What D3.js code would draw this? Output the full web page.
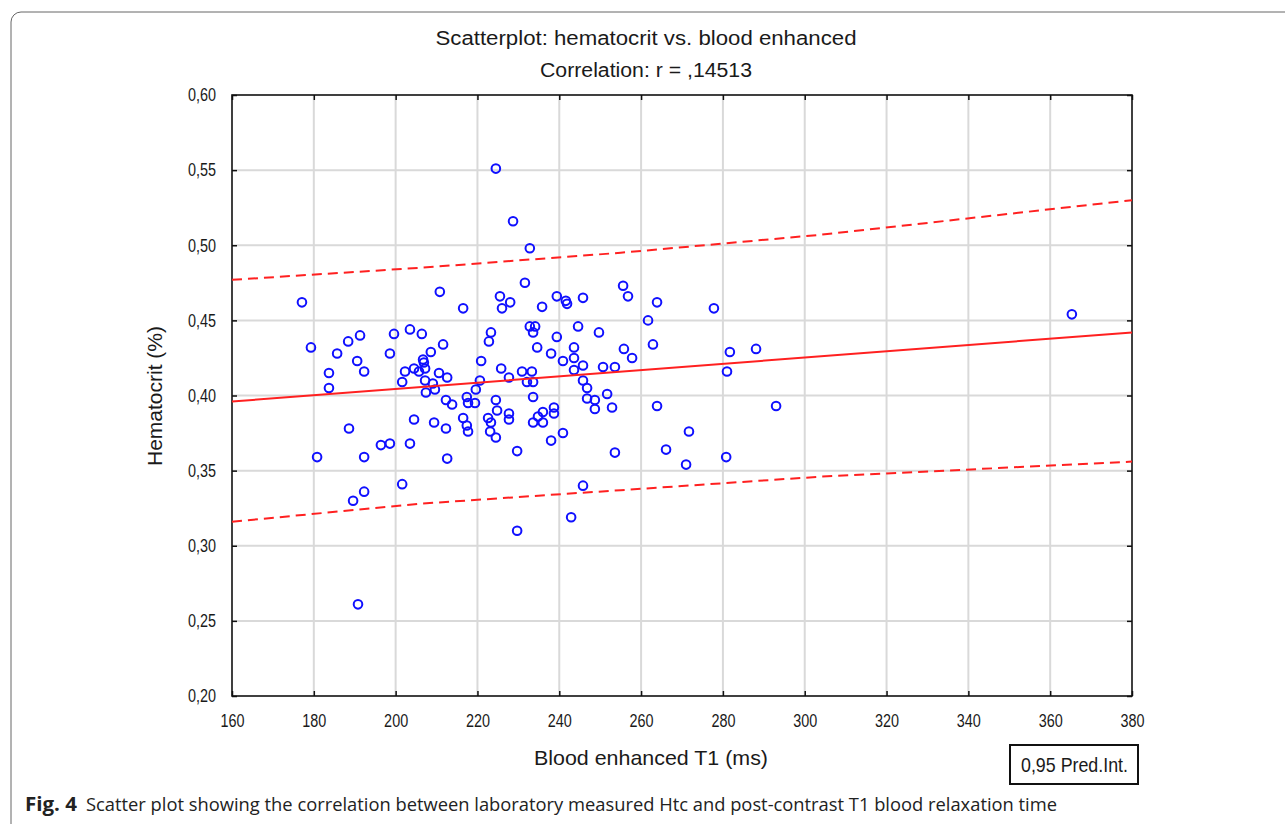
<!DOCTYPE html>
<html>
<head>
<meta charset="utf-8">
<script src="https://cdn.jsdelivr.net/npm/d3@7"></script>
<style>
  body { margin: 0; background: #fff; }
  .chart-text { font-family: "Liberation Sans Narrow", "Liberation Sans", Arial, sans-serif; fill: #1a1a1a; }
  .caption { font-family: "Open Sans", "Noto Sans", sans-serif; fill: #222; }
</style>
</head>
<body>
<svg id="chart" width="1285" height="824"></svg>
<script>
// data
// x: blood enhanced T1 (ms), y: hematocrit
var t1Values = [
    177.1, 179.3, 180.8, 183.7, 183.7, 185.7, 188.4, 188.6, 191.3, 190.6, 192.3, 189.6, 192.3, 192.3,
    190.8, 196.4, 198.6, 198.6, 199.6, 201.6, 201.6, 202.3, 203.5, 203.5, 204.5, 204.5, 205.7,
    206.4, 206.7, 206.9, 207.2, 207.2, 207.4, 208.6, 209.1, 209.6, 211.6, 210.6, 212.6, 209.4, 212.3,
    210.8, 216.5, 212.6, 212.3, 213.8, 216.5, 217.4, 217.7, 217.4, 217.7, 219.4, 219.6, 220.6, 220.9,
    223.3, 222.8, 225.5, 228.0, 226.0, 224.5, 228.7, 232.8, 231.6, 225.8, 227.7, 230.9, 232.1, 233.3,
    233.6, 224.5, 224.8, 222.6, 223.3, 223.1, 224.5, 227.7, 227.7, 229.7, 229.7, 232.8, 234.1, 233.6,
    234.6, 238.0, 239.4, 233.6, 233.6, 234.8, 236.0, 236.0, 238.7, 238.7, 238.0, 240.9, 240.9, 243.6,
    243.6, 244.6, 245.8, 243.6, 245.8, 246.8, 246.8, 248.7, 248.7, 249.7, 235.8, 239.4, 241.6, 241.9,
    245.8, 245.8, 242.9, 250.7, 253.6, 251.7, 252.9, 253.6,
    255.6, 256.8, 263.9, 261.7, 277.8, 262.9, 255.8, 257.8, 281.7, 288.1, 281.0, 263.9, 293.0, 271.7,
    266.1, 271.0, 280.8, 365.3
];
var hctValues = [
    0.462, 0.432, 0.359, 0.415, 0.405, 0.428, 0.436, 0.378, 0.440, 0.423, 0.416, 0.330, 0.336, 0.359,
    0.261, 0.367, 0.368, 0.428, 0.441, 0.341, 0.409, 0.416, 0.368, 0.444, 0.384, 0.418, 0.416,
    0.441, 0.424, 0.422, 0.418, 0.410, 0.402, 0.429, 0.408, 0.404, 0.434, 0.415, 0.412, 0.382, 0.378,
    0.469, 0.458, 0.358, 0.397, 0.394, 0.385, 0.380, 0.376, 0.399, 0.395, 0.395, 0.404, 0.410, 0.423,
    0.442, 0.436, 0.466, 0.462, 0.458, 0.551, 0.516, 0.498, 0.475, 0.418, 0.412, 0.416, 0.409, 0.416,
    0.409, 0.397, 0.390, 0.385, 0.382, 0.376, 0.372, 0.388, 0.384, 0.363, 0.310, 0.446, 0.446, 0.442,
    0.432, 0.428, 0.439, 0.399, 0.382, 0.386, 0.389, 0.382, 0.392, 0.388, 0.370, 0.375, 0.423, 0.432,
    0.425, 0.446, 0.420, 0.417, 0.410, 0.405, 0.398, 0.397, 0.391, 0.442, 0.459, 0.466, 0.463, 0.461,
    0.465, 0.340, 0.319, 0.419, 0.419, 0.401, 0.392, 0.362,
    0.473, 0.466, 0.462, 0.450, 0.458, 0.434, 0.431, 0.425, 0.429, 0.431, 0.416, 0.393, 0.393, 0.376,
    0.364, 0.354, 0.359, 0.454
];
// regression line and 0.95 prediction band
var fitX = [160, 380];
var fitY = [0.396, 0.442];
var bandX = [160, 206, 255, 304, 380];
var bandUpper = [0.477, 0.485, 0.495, 0.507, 0.530];
var bandLower = [0.316, 0.328, 0.337, 0.346, 0.356];
// ticks
var xTicks = [160, 180, 200, 220, 240, 260, 280, 300, 320, 340, 360, 380];
var yTicks = [0.20, 0.25, 0.30, 0.35, 0.40, 0.45, 0.50, 0.55, 0.60];

var plotBox = {'left': 232, 'right': 1132, 'top': 95, 'bottom': 696};
var svg = d3.select('#chart');

var x = d3.scaleLinear().domain([160, 380]).range([plotBox.left, plotBox.right]);
var y = d3.scaleLinear().domain([0.20, 0.60]).range([plotBox.bottom, plotBox.top]);
var commaFmt = function (v) { return d3.format('.2f')(v).replace('.', ','); };

// outer figure frame (rounded, runs off the right and bottom edge)
svg.append('rect')
   .attr('x', 11).attr('y', 12)
   .attr('width', 1300).attr('height', 830)
   .attr('rx', 10).attr('ry', 10)
   .attr('fill', 'none').attr('stroke', '#666').attr('stroke-width', 1);

// grid
var grid = svg.append('g');
grid.selectAll('line.gx').data(xTicks.slice(1, -1)).enter().append('line')
    .attr('x1', function (d) { return x(d); }).attr('x2', function (d) { return x(d); })
    .attr('y1', plotBox.top).attr('y2', plotBox.bottom)
    .attr('stroke', '#d9d9d9').attr('stroke-width', 2);
grid.selectAll('line.gy').data(yTicks.slice(1, -1)).enter().append('line')
    .attr('y1', function (d) { return y(d); }).attr('y2', function (d) { return y(d); })
    .attr('x1', plotBox.left).attr('x2', plotBox.right)
    .attr('stroke', '#d9d9d9').attr('stroke-width', 2);

// axes: ticks point inwards on all four sides
var axisBottom = d3.axisBottom(x).tickValues(xTicks).tickSize(-5).tickFormat(d3.format('d')).tickPadding(18);
var axisTop = d3.axisTop(x).tickValues(xTicks).tickSize(-5).tickFormat('');
var axisLeft = d3.axisLeft(y).tickValues(yTicks).tickSize(-5).tickFormat(commaFmt).tickPadding(16);
var axisRight = d3.axisRight(y).tickValues(yTicks).tickSize(-5).tickFormat('');

// the original uses a narrow face: squeeze tick labels to ~80% width
function styleAxis(g) {
    g.select('.domain').remove();
    g.selectAll('.tick line').attr('stroke', '#111').attr('stroke-width', 1.5);
    g.selectAll('.tick text').attr('class', 'chart-text').style('font-size', '18px').attr('fill', '#1a1a1a')
     .each(function () {
         if (!this.textContent) return;
         var w = this.getComputedTextLength();
         d3.select(this).attr('textLength', w * 0.8).attr('lengthAdjust', 'spacingAndGlyphs');
     });
}
svg.append('g').attr('transform', 'translate(0,' + plotBox.bottom + ')').call(axisBottom).call(styleAxis);
svg.append('g').attr('transform', 'translate(0,' + plotBox.top + ')').call(axisTop).call(styleAxis);
svg.append('g').attr('transform', 'translate(' + plotBox.left + ',0)').call(axisLeft).call(styleAxis);
svg.append('g').attr('transform', 'translate(' + plotBox.right + ',0)').call(axisRight).call(styleAxis);

// plot frame
svg.append('rect')
   .attr('x', plotBox.left).attr('y', plotBox.top)
   .attr('width', plotBox.right - plotBox.left).attr('height', plotBox.bottom - plotBox.top)
   .attr('fill', 'none').attr('stroke', '#111').attr('stroke-width', 1.6);

// points
var pts = t1Values.map(function (v, i) { return [v, hctValues[i]]; });
svg.append('g').selectAll('circle').data(pts).enter().append('circle')
   .attr('cx', function (d) { return x(d[0]); })
   .attr('cy', function (d) { return y(d[1]); })
   .attr('r', 4.3)
   .attr('fill', 'none').attr('stroke', '#1010ff').attr('stroke-width', 2);

// fit + prediction interval
var line = d3.line().x(function (d) { return x(d[0]); }).y(function (d) { return y(d[1]); });
svg.append('path')
   .datum(fitX.map(function (v, i) { return [v, fitY[i]]; }))
   .attr('d', line).attr('fill', 'none').attr('stroke', '#ff2020').attr('stroke-width', 2);
[bandUpper, bandLower].forEach(function (band) {
    svg.append('path')
       .datum(bandX.map(function (v, i) { return [v, band[i]]; }))
       .attr('d', line).attr('fill', 'none').attr('stroke', '#ff2020')
       .attr('stroke-width', 2).attr('stroke-dasharray', '10,6');
});

// titles
svg.append('text').attr('class', 'chart-text')
   .attr('x', 646).attr('y', 45).attr('text-anchor', 'middle')
   .attr('textLength', 421).attr('lengthAdjust', 'spacingAndGlyphs')
   .style('font-size', '20px').text('Scatterplot: hematocrit vs. blood enhanced');
svg.append('text').attr('class', 'chart-text')
   .attr('x', 646).attr('y', 77).attr('text-anchor', 'middle')
   .attr('textLength', 212).attr('lengthAdjust', 'spacingAndGlyphs')
   .style('font-size', '20px').text('Correlation: r = ,14513');

// axis labels
svg.append('text').attr('class', 'chart-text')
   .attr('x', 651).attr('y', 765).attr('text-anchor', 'middle')
   .attr('textLength', 234).attr('lengthAdjust', 'spacingAndGlyphs')
   .style('font-size', '21px').text('Blood enhanced T1 (ms)');
svg.append('text').attr('class', 'chart-text')
   .attr('transform', 'translate(162,396) rotate(-90)').attr('text-anchor', 'middle')
   .attr('textLength', 140).attr('lengthAdjust', 'spacingAndGlyphs')
   .style('font-size', '21px').text('Hematocrit (%)');

// legend box
svg.append('rect')
   .attr('x', 1010).attr('y', 745).attr('width', 128).attr('height', 39)
   .attr('fill', '#fff').attr('stroke', '#111').attr('stroke-width', 2);
svg.append('text').attr('class', 'chart-text')
   .attr('x', 1021).attr('y', 772)
   .attr('textLength', 107).attr('lengthAdjust', 'spacingAndGlyphs')
   .style('font-size', '21px').text('0,95 Pred.Int.');

// figure caption
svg.append('text').attr('class', 'caption')
   .attr('x', 25).attr('y', 811)
   .attr('textLength', 52).attr('lengthAdjust', 'spacingAndGlyphs')
   .style('font-size', '19px').style('font-weight', 'bold').text('Fig. 4');
svg.append('text').attr('class', 'caption')
   .attr('x', 86).attr('y', 811)
   .attr('textLength', 971).attr('lengthAdjust', 'spacingAndGlyphs')
   .style('font-size', '19px')
   .text('Scatter plot showing the correlation between laboratory measured Htc and post-contrast T1 blood relaxation time');
</script>
</body>
</html>
